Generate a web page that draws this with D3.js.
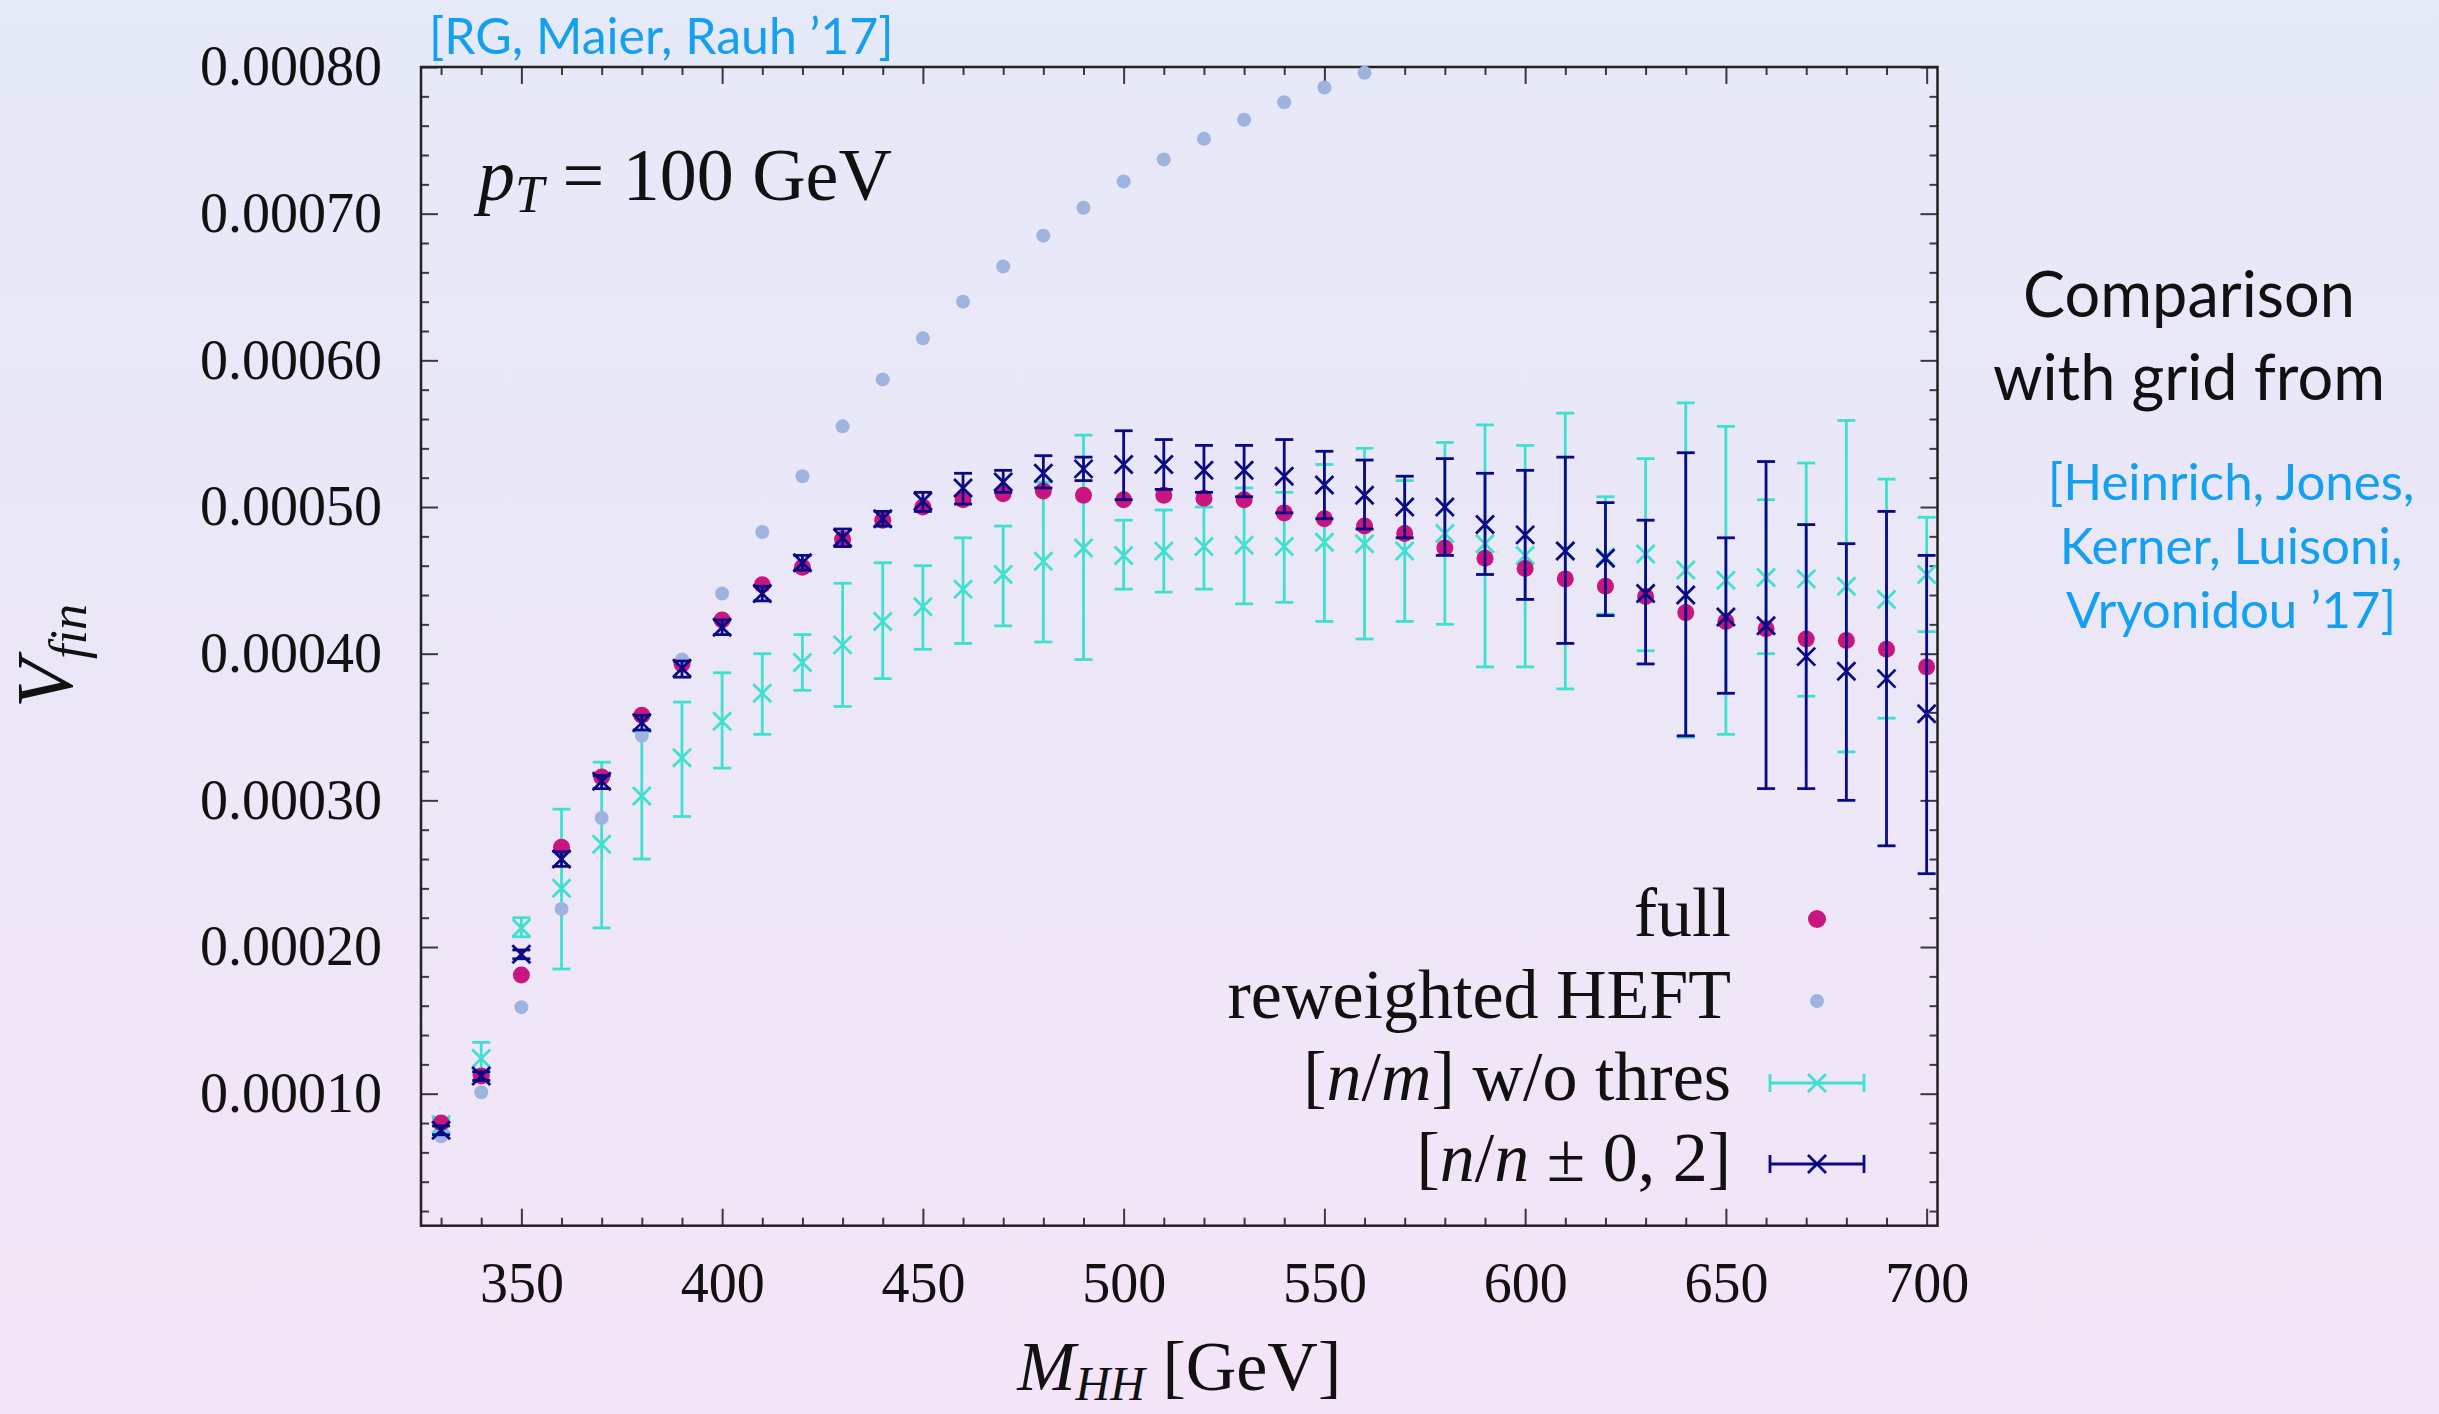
<!DOCTYPE html>
<html>
<head>
<meta charset="utf-8">
<script src="https://cdnjs.cloudflare.com/ajax/libs/d3/7.8.5/d3.min.js"></script>
<style>
  html, body { margin: 0; padding: 0; overflow: hidden; }
  svg { display: block; }
  .serif { font-family: 'Liberation Serif', 'DejaVu Serif', serif; }
  .hand { font-family: 'Segoe Print', 'Comic Sans MS', 'Lato', sans-serif; }
</style>
</head>
<body>
<svg id="chart" width="2439" height="1414"></svg>
<script>
// values are in units of 1e-4
const mhh = [330, 340, 350, 360, 370, 380, 390, 400, 410, 420, 430, 440, 450, 460, 470, 480, 490, 500, 510,
             520, 530, 540, 550, 560, 570, 580, 590, 600, 610, 620, 630, 640, 650, 660, 670, 680, 690, 700];

const full = [0.80, 1.12, 1.81, 2.68, 3.16, 3.58, 3.93, 4.23, 4.47, 4.59, 4.78, 4.91, 5.00, 5.05, 5.09, 5.11, 5.08, 5.05, 5.08,
              5.06, 5.05, 4.96, 4.92, 4.87, 4.82, 4.72, 4.65, 4.58, 4.51, 4.46, 4.39, 4.28, 4.22, 4.17, 4.10, 4.09, 4.03, 3.91];

// reweighted HEFT, leaves the frame after 560 GeV
const heft = [0.71, 1.01, 1.59, 2.26, 2.88, 3.44, 3.96, 4.41, 4.83, 5.21, 5.55, 5.87, 6.15, 6.40, 6.64, 6.85, 7.04, 7.22, 7.37,
              7.51, 7.64, 7.76, 7.86, 7.96];

// [n/m] w/o thres
const thresVal = [0.79, 1.24, 2.13, 2.40, 2.70, 3.03, 3.29, 3.54, 3.73, 3.94, 4.06, 4.22, 4.32, 4.44, 4.54, 4.63, 4.72, 4.67, 4.70,
                  4.73, 4.74, 4.73, 4.76, 4.75, 4.70, 4.82, 4.75, 4.67, 4.70, 4.66, 4.68, 4.57, 4.50, 4.52, 4.51, 4.46, 4.37, 4.54];
const thresLo  = [0.73, 1.13, 2.07, 1.85, 2.13, 2.60, 2.89, 3.22, 3.45, 3.75, 3.64, 3.83, 4.03, 4.07, 4.19, 4.08, 3.96, 4.44, 4.42,
                  4.44, 4.34, 4.35, 4.22, 4.10, 4.22, 4.20, 3.91, 3.91, 3.76, 4.27, 4.02, 3.43, 3.45, 4.00, 3.71, 3.33, 3.56, 4.15];
const thresHi  = [0.83, 1.35, 2.20, 2.94, 3.26, 3.47, 3.67, 3.87, 4.00, 4.13, 4.48, 4.62, 4.60, 4.79, 4.87, 5.17, 5.49, 4.91, 4.98,
                  5.00, 5.13, 5.10, 5.29, 5.40, 5.18, 5.44, 5.56, 5.42, 5.64, 5.07, 5.33, 5.71, 5.55, 5.05, 5.30, 5.59, 5.19, 4.93];

// [n/n +- 0,2]
const padeVal = [0.75, 1.12, 1.95, 2.60, 3.13, 3.53, 3.90, 4.18, 4.41, 4.62, 4.79, 4.92, 5.04, 5.13, 5.17, 5.23, 5.26, 5.29, 5.29,
                 5.25, 5.25, 5.21, 5.15, 5.08, 5.00, 5.00, 4.88, 4.81, 4.70, 4.65, 4.41, 4.40, 4.25, 4.19, 3.98, 3.88, 3.83, 3.59];
const padeLo  = [0.72, 1.09, 1.92, 2.55, 3.08, 3.48, 3.84, 4.13, 4.36, 4.57, 4.73, 4.87, 4.97, 5.02, 5.10, 5.13, 5.18, 5.05, 5.12,
                 5.10, 5.07, 4.96, 4.92, 4.85, 4.79, 4.67, 4.54, 4.37, 4.07, 4.26, 3.93, 3.44, 3.73, 3.08, 3.08, 3.00, 2.69, 2.50];
const padeHi  = [0.78, 1.15, 1.98, 2.65, 3.17, 3.58, 3.95, 4.23, 4.46, 4.67, 4.85, 4.97, 5.10, 5.23, 5.25, 5.35, 5.34, 5.52, 5.46,
                 5.42, 5.42, 5.46, 5.38, 5.32, 5.21, 5.33, 5.23, 5.25, 5.34, 5.03, 4.91, 5.37, 4.79, 5.31, 4.88, 4.75, 4.97, 4.67];

const xMajor = [350, 400, 450, 500, 550, 600, 650, 700];
const yMajor = [1, 2, 3, 4, 5, 6, 7, 8];
const legendLabels = ['full', 'reweighted HEFT', '[n/m] w/o thres', '[n/n ± 0, 2]'];

const C_FULL = '#c8157f', C_HEFT = '#9fb3df', C_THRES = '#40e0d0', C_PADE = '#0a0a84';

const W = 2439, H = 1414;
const margin = { left: 421, top: 67, right: 2439 - 1937.5, bottom: 1414 - 1225.7 };
const pw = W - margin.left - margin.right;
const ph = H - margin.top - margin.bottom;

const svg = d3.select('#chart');

// background gradient
const defs = svg.append('defs');
const grad = defs.append('linearGradient').attr('id', 'bg').attr('x1', 0).attr('y1', 0).attr('x2', 0).attr('y2', 1);
grad.append('stop').attr('offset', '0%').attr('stop-color', '#e5e9f8');
grad.append('stop').attr('offset', '100%').attr('stop-color', '#f3e5f7');
svg.append('rect').attr('width', W).attr('height', H).attr('fill', 'url(#bg)');

const g = svg.append('g').attr('transform', `translate(${margin.left},${margin.top})`);

const x = d3.scaleLinear().domain([325, 702.7]).range([0, pw]);
const y = d3.scaleLinear().domain([0.1, 8]).range([ph, 0]);

const xMinor = d3.range(330, 701, 10).filter(v => !xMajor.includes(v));
const yMinor = d3.range(0.2, 8.01, 0.2).map(v => +v.toFixed(1)).filter(v => !yMajor.includes(v));

// axes, ticks on all four sides pointing inwards
function styleAxis(sel) {
  sel.select('.domain').remove();
  sel.selectAll('.tick line').attr('stroke', '#3a3a3a').attr('stroke-width', 2);
  sel.selectAll('.tick text').attr('class', 'serif').attr('fill', '#111').attr('font-size', 56);
}
g.append('g').attr('transform', `translate(0,${ph})`)
  .call(d3.axisBottom(x).tickValues(xMajor).tickSize(-17).tickPadding(37).tickFormat(d3.format('d')))
  .call(styleAxis);
g.append('g').attr('transform', `translate(0,${ph})`)
  .call(d3.axisBottom(x).tickValues(xMinor).tickSize(-8).tickFormat(''))
  .call(styleAxis);
g.append('g')
  .call(d3.axisTop(x).tickValues(xMajor).tickSize(-17).tickFormat(''))
  .call(styleAxis);
g.append('g')
  .call(d3.axisTop(x).tickValues(xMinor).tickSize(-8).tickFormat(''))
  .call(styleAxis);
g.append('g')
  .call(d3.axisLeft(y).tickValues(yMajor).tickSize(-17).tickPadding(39).tickFormat(d => (d * 1e-4).toFixed(5)))
  .call(styleAxis);
g.append('g')
  .call(d3.axisLeft(y).tickValues(yMinor).tickSize(-8).tickFormat(''))
  .call(styleAxis);
g.append('g').attr('transform', `translate(${pw},0)`)
  .call(d3.axisRight(y).tickValues(yMajor).tickSize(-17).tickFormat(''))
  .call(styleAxis);
g.append('g').attr('transform', `translate(${pw},0)`)
  .call(d3.axisRight(y).tickValues(yMinor).tickSize(-8).tickFormat(''))
  .call(styleAxis);

g.append('rect').attr('width', pw).attr('height', ph)
  .attr('fill', 'none').attr('stroke', '#222').attr('stroke-width', 2.5);

// marks
const CAP = 9, XS = 9, LW = 2.8;

function xMark(cx, cy) {
  return `M${cx - XS},${cy - XS}L${cx + XS},${cy + XS}M${cx - XS},${cy + XS}L${cx + XS},${cy - XS}`;
}

function errSeries(vals, lo, hi, color) {
  const pts = mhh.map((m, i) => ({ m, v: vals[i], lo: lo[i], hi: hi[i] }));
  const s = g.append('g').attr('stroke', color).attr('stroke-width', LW).attr('fill', 'none');
  s.selectAll('line.bar').data(pts).join('line').attr('class', 'bar')
    .attr('x1', d => x(d.m)).attr('x2', d => x(d.m))
    .attr('y1', d => y(d.lo)).attr('y2', d => y(d.hi));
  s.selectAll('line.capl').data(pts).join('line').attr('class', 'capl')
    .attr('x1', d => x(d.m) - CAP).attr('x2', d => x(d.m) + CAP)
    .attr('y1', d => y(d.lo)).attr('y2', d => y(d.lo));
  s.selectAll('line.caph').data(pts).join('line').attr('class', 'caph')
    .attr('x1', d => x(d.m) - CAP).attr('x2', d => x(d.m) + CAP)
    .attr('y1', d => y(d.hi)).attr('y2', d => y(d.hi));
  s.selectAll('path').data(pts).join('path')
    .attr('d', d => xMark(x(d.m), y(d.v)));
}

errSeries(thresVal, thresLo, thresHi, C_THRES);

g.append('g').selectAll('circle').data(mhh.map((m, i) => ({ m, v: full[i] }))).join('circle')
  .attr('cx', d => x(d.m)).attr('cy', d => y(d.v)).attr('r', 8.5).attr('fill', C_FULL);

g.append('g').selectAll('circle').data(heft.map((v, i) => ({ m: mhh[i], v }))).join('circle')
  .attr('cx', d => x(d.m)).attr('cy', d => y(d.v)).attr('r', 7).attr('fill', C_HEFT);

errSeries(padeVal, padeLo, padeHi, C_PADE);

// legend
const legX = 1731, legM = 1817, legY = [919, 1001, 1083, 1164];
const leg = svg.append('g').attr('class', 'serif').attr('font-size', 70).attr('fill', '#111');

function legText(i, parts) {
  const t = leg.append('text').attr('x', legX).attr('y', legY[i] + 17).attr('text-anchor', 'end');
  parts.forEach(p => t.append('tspan').attr('font-style', p[1] ? 'italic' : 'normal').text(p[0]));
}
legText(0, [[legendLabels[0], false]]);
legText(1, [[legendLabels[1], false]]);
legText(2, [['[', false], ['n', true], ['/', false], ['m', true], ['] w/o thres', false]]);
legText(3, [['[', false], ['n', true], ['/', false], ['n', true], [' ± 0, 2]', false]]);

svg.append('circle').attr('cx', legM).attr('cy', legY[0]).attr('r', 9).attr('fill', C_FULL);
svg.append('circle').attr('cx', legM).attr('cy', legY[1]).attr('r', 7).attr('fill', C_HEFT);
[[2, C_THRES], [3, C_PADE]].forEach(([i, c]) => {
  const yy = legY[i];
  const lg = svg.append('g').attr('stroke', c).attr('stroke-width', LW).attr('fill', 'none');
  lg.append('line').attr('x1', legM - 47).attr('x2', legM + 47).attr('y1', yy).attr('y2', yy);
  lg.append('line').attr('x1', legM - 47).attr('x2', legM - 47).attr('y1', yy - CAP).attr('y2', yy + CAP);
  lg.append('line').attr('x1', legM + 47).attr('x2', legM + 47).attr('y1', yy - CAP).attr('y2', yy + CAP);
  lg.append('path').attr('d', xMark(legM, yy));
});

// labels
const pt = svg.append('text').attr('class', 'serif').attr('x', 478).attr('y', 200).attr('font-size', 74).attr('fill', '#111');
pt.append('tspan').attr('font-style', 'italic').text('p');
pt.append('tspan').attr('font-style', 'italic').attr('font-size', 52).attr('dy', 12).text('T');
pt.append('tspan').attr('dy', -12).text(' = 100 GeV');

const xl = svg.append('text').attr('class', 'serif').attr('x', margin.left + pw / 2).attr('y', 1390)
  .attr('text-anchor', 'middle').attr('font-size', 70).attr('fill', '#111');
xl.append('tspan').attr('font-style', 'italic').text('M');
xl.append('tspan').attr('font-style', 'italic').attr('font-size', 48).attr('dy', 10).text('HH');
xl.append('tspan').attr('dy', -10).text(' [GeV]');

const yl = svg.append('text').attr('class', 'serif').attr('transform', 'translate(72,656) rotate(-90)')
  .attr('text-anchor', 'middle').attr('font-size', 80).attr('fill', '#111');
yl.append('tspan').attr('font-style', 'italic').text('V');
yl.append('tspan').attr('font-style', 'italic').attr('font-size', 52).attr('dy', 14).text('fin');

// annotations
const BLUE = '#14a0f0';
svg.append('text').attr('class', 'hand').attr('x', 429).attr('y', 54).attr('font-size', 50)
  .attr('fill', BLUE).text('[RG, Maier, Rauh \u201917]');

const cmp = svg.append('text').attr('class', 'hand').attr('text-anchor', 'middle')
  .attr('font-size', 63).attr('fill', '#111');
cmp.append('tspan').attr('x', 2189).attr('y', 317).text('Comparison');
cmp.append('tspan').attr('x', 2189).attr('y', 400).text('with grid from');

const refs = ['[Heinrich, Jones,', 'Kerner, Luisoni,', 'Vryonidou \u201917]'];
svg.append('g').attr('class', 'hand').attr('font-size', 51).attr('fill', BLUE)
  .selectAll('text').data(refs).join('text')
  .attr('x', 2231).attr('y', (d, i) => 500 + i * 64).attr('text-anchor', 'middle').text(d => d);
</script>
</body>
</html>
